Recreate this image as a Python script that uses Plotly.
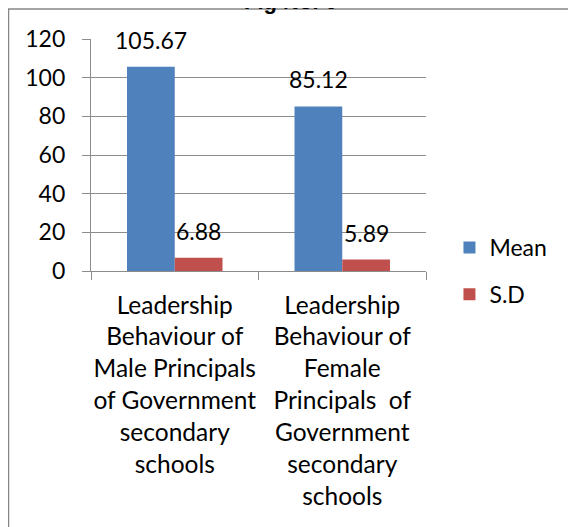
import plotly.graph_objects as go

categories = [
    "Leadership<br>Behaviour of<br>Male Principals<br>of Government<br>secondary<br>schools",
    "Leadership<br>Behaviour of<br>Female<br>Principals  of<br>Government<br>secondary<br>schools",
]
series_names = ["Mean", "S.D"]
mean_values = [105.67, 85.12]
sd_values = [6.88, 5.89]
value_labels_mean = ["105.67", "85.12"]
value_labels_sd = ["6.88", "5.89"]
y_ticks = [0, 20, 40, 60, 80, 100, 120]
title_text = "Fig No. 6"

colors = ["#4F81BD", "#C0504D"]
FONT = "Lato"
GRID = "#8c8c8c"

W, H = 576, 527
# the page places the figure 8px from the top-left corner; margins compensate
ml, mr, mt, mb = 83, 158, 31, 264
pw, ph = W - ml - mr, H - mt - mb

fig = go.Figure()
for name, vals, col, grp in [(series_names[0], mean_values, colors[0], "a"),
                             (series_names[1], sd_values, colors[1], "b")]:
    fig.add_trace(go.Bar(
        x=categories, y=vals, name=name, marker_color=col,
        marker_line_width=0, legendgroup=grp,
    ))

bar_off = 24
for labels, vals, shift in [(value_labels_mean, mean_values, -bar_off),
                            (value_labels_sd, sd_values, bar_off)]:
    for cat, v, lab in zip(categories, vals, labels):
        fig.add_annotation(
            x=cat, y=v, text=lab, showarrow=False, xshift=shift, yshift=27,
            yanchor="middle", xanchor="center",
            font=dict(family=FONT, size=23, color="#000"),
        )

# title (cropped at top of image)
fig.add_annotation(
    x=(282 - ml) / pw, y=1 + (mt - 8.5) / ph, xref="paper", yref="paper",
    text="<b>" + title_text + "</b>", showarrow=False, yanchor="bottom",
    xanchor="center",
    font=dict(family="Liberation Sans", size=22, color="#000"),
)

# outer chart border
fig.add_shape(
    type="rect", xref="paper", yref="paper",
    x0=(0.5 - ml) / pw, x1=(W + 30 - ml) / pw,
    y0=-(H + 30 - mt - ph) / ph,
    y1=1 + (mt - 1) / ph,
    line=dict(color="#868686", width=1.5), layer="below",
)

fig.update_layout(
    width=W, height=H,
    margin=dict(l=ml, r=mr, t=mt, b=mb, autoexpand=False),
    paper_bgcolor="white", plot_bgcolor="white",
    barmode="group", bargap=0.43, bargroupgap=0,
    font=dict(family=FONT, size=23, color="#000"),
    showlegend=True,
    legend=dict(
        x=1.07, y=0.0, xanchor="left", yanchor="middle",
        font=dict(family=FONT, size=23, color="#000"),
        tracegroupgap=14, traceorder="grouped",
        bgcolor="rgba(0,0,0,0)",
    ),
)
fig.update_yaxes(
    range=[0, 120], tickvals=y_ticks, ticktext=[str(t) for t in y_ticks],
    showgrid=True, gridcolor=GRID, gridwidth=1.3,
    showline=True, linecolor=GRID, linewidth=1.3,
    ticks="outside", ticklen=8, tickcolor=GRID, tickwidth=1.3,
    ticklabelstandoff=12, zeroline=False,
    tickfont=dict(family=FONT, size=23),
)
fig.update_xaxes(
    showline=True, linecolor=GRID, linewidth=1.3,
    ticks="outside", ticklen=8, tickcolor=GRID, tickwidth=1.3,
    tickson="boundaries", showgrid=False, tickangle=0,
    tickfont=dict(family=FONT, size=24.5),
    ticklabelstandoff=12,
)

fig.write_html("out.html")
